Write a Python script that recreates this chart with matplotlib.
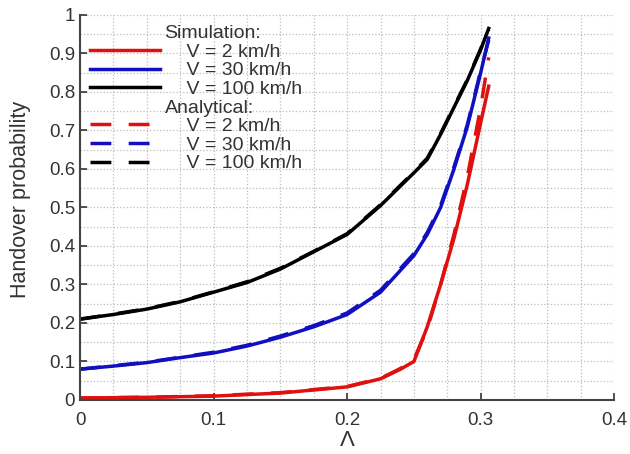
import numpy as np
import matplotlib
matplotlib.use('Agg')
import matplotlib.pyplot as plt
from matplotlib.lines import Line2D
from matplotlib.ticker import FormatStrFormatter, MultipleLocator

plt.rcParams['font.family'] = ['Liberation Sans', 'DejaVu Sans']

# simulation curves
lam_sim = [0, 0.025, 0.05, 0.075, 0.1, 0.125, 0.15, 0.175, 0.2, 0.225, 0.25, 0.26, 0.27, 0.28, 0.29, 0.3, 0.306]
sim_100 = [0.21, 0.222, 0.236, 0.255, 0.28, 0.305, 0.34, 0.385, 0.43, 0.505, 0.59, 0.625, 0.69, 0.76, 0.83, 0.91, 0.965]
sim_30 = [0.08, 0.088, 0.097, 0.11, 0.122, 0.14, 0.163, 0.19, 0.222, 0.28, 0.375, 0.43, 0.5, 0.6, 0.71, 0.85, 0.94]

lam_red = [0, 0.05, 0.1, 0.15, 0.2, 0.225, 0.24, 0.25, 0.26, 0.27, 0.28, 0.29, 0.3, 0.306]
sim_2 = [0.005, 0.007, 0.01, 0.018, 0.034, 0.055, 0.08, 0.1, 0.19, 0.3, 0.42, 0.56, 0.72, 0.815]

# analytical curves
ana_100 = [0.21, 0.223, 0.237, 0.256, 0.281, 0.307, 0.342, 0.386, 0.432, 0.507, 0.592, 0.628, 0.692, 0.762, 0.832, 0.912, 0.962]
ana_30 = [0.08, 0.089, 0.098, 0.111, 0.124, 0.142, 0.166, 0.193, 0.226, 0.285, 0.38, 0.435, 0.505, 0.605, 0.715, 0.855, 0.935]
ana_2 = [0.005, 0.007, 0.011, 0.019, 0.035, 0.056, 0.082, 0.105, 0.185, 0.3, 0.43, 0.58, 0.76, 0.89]

fig = plt.figure(figsize=(6.3, 4.54), dpi=100)
ax = fig.add_axes([0.127, 0.119, 0.848, 0.848])

lw = 2.5
ax.plot(lam_sim, sim_100, color='black', lw=lw)
ax.plot(lam_sim, sim_30, color='#1010c0', lw=lw)
ax.plot(lam_red, sim_2, color='#e01010', lw=lw)
ax.plot(lam_sim, ana_100, color='black', lw=lw, dashes=(6, 5))
ax.plot(lam_sim, ana_30, color='#1010c0', lw=lw, dashes=(6, 5))
ax.plot(lam_red, ana_2, color='#e01010', lw=lw, dashes=(6, 5))

ax.set_xlim(0, 0.4)
ax.set_ylim(0, 1)
ax.xaxis.set_major_locator(MultipleLocator(0.1))
ax.yaxis.set_major_locator(MultipleLocator(0.1))
ax.xaxis.set_minor_locator(MultipleLocator(0.025))
ax.yaxis.set_minor_locator(MultipleLocator(0.05))
ax.xaxis.set_major_formatter(FormatStrFormatter('%g'))
ax.yaxis.set_major_formatter(FormatStrFormatter('%g'))
ax.tick_params(which='major', direction='in', length=5, width=1.2, labelsize=13.5, colors='#333333')
ax.tick_params(axis='x', which='major', pad=9)
ax.tick_params(which='minor', length=0)
ax.grid(which='both', linestyle=':', color='#bdbdbd', linewidth=0.9)
for s in ['top', 'right']:
    ax.spines[s].set_visible(False)
for s in ['left', 'bottom']:
    ax.spines[s].set_color('#444444')
    ax.spines[s].set_linewidth(1.5)

ax.set_ylabel('Handover probability', fontsize=15.5, color='#333333')
ax.yaxis.set_label_coords(-0.092, 0.52)
ax.set_xlabel('Λ', fontsize=16, color='#333333', labelpad=0.5)

blank = Line2D([], [], color='none')
handles = [blank,
           Line2D([], [], color='#e01010', lw=lw),
           Line2D([], [], color='#1010c0', lw=lw),
           Line2D([], [], color='black', lw=lw),
           blank,
           Line2D([], [], color='#e01010', lw=lw, dashes=(6, 5)),
           Line2D([], [], color='#1010c0', lw=lw, dashes=(6, 5)),
           Line2D([], [], color='black', lw=lw, dashes=(6, 5))]
labels = ['Simulation:', '    V = 2 km/h', '    V = 30 km/h', '    V = 100 km/h',
          'Analytical:', '    V = 2 km/h', '    V = 30 km/h', '    V = 100 km/h']
ax.legend(handles, labels, loc='upper left', bbox_to_anchor=(0.0, 1.0), frameon=False,
          fontsize=14, handlelength=3.6, handletextpad=0.25, labelspacing=0.05,
          borderaxespad=0.1, labelcolor='#333333')

fig.savefig('out.png', dpi=100)
